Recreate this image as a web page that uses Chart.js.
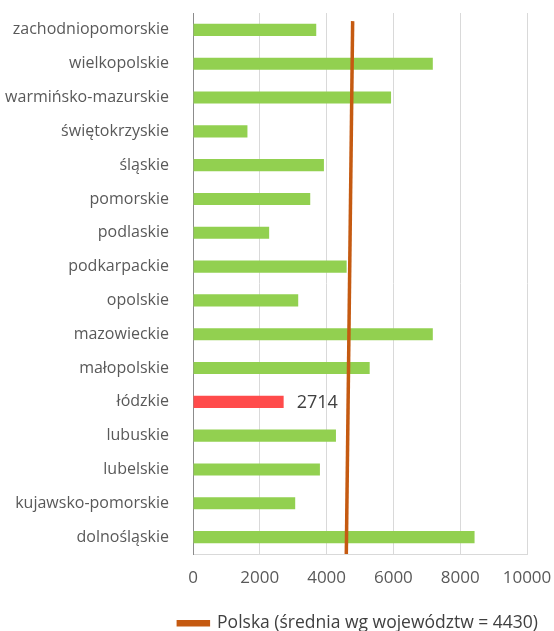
<!DOCTYPE html>
<html>
<head>
<meta charset="utf-8">
<script src="https://cdn.jsdelivr.net/npm/chart.js@4"></script>
<style>
  html, body { margin: 0; padding: 0; background: #fff; }
  #wrap { width: 554px; height: 631px; }
</style>
</head>
<body>
<div id="wrap"><canvas id="avgChart" width="554" height="631"></canvas></div>
<script>
// voivodeships, top to bottom as shown
const regions = [
    'zachodniopomorskie', 'wielkopolskie', 'warmińsko-mazurskie', 'świętokrzyskie',
    'śląskie', 'pomorskie', 'podlaskie', 'podkarpackie', 'opolskie', 'mazowieckie',
    'małopolskie', 'łódzkie', 'lubuskie', 'lubelskie', 'kujawsko-pomorskie', 'dolnośląskie'
];
const values = [3690, 7180, 5930, 1630, 3920, 3510, 2280, 4600, 3150, 7180, 5290, 2714, 4280, 3800, 3060, 8430];
const highlighted = 'łódzkie';

// the "Polska" reference line as it is drawn (slightly slanted in the source)
const avgLineX = [4590, 4780];
const avgLineY = [0, 0.985];
const avgLabel = 'Polska (średnia wg województw = 4430)';

const xTicks = [0, 2000, 4000, 6000, 8000, 10000];

const barColors = regions.map(r => r === highlighted ? '#FF4B4B' : '#92D050');
const avgPoints = avgLineX.map((x, i) => ({ x: x, y: avgLineY[i] }));

const valueLabel = {
    id: 'valueLabel',
    afterDatasetsDraw(chart) {
        const ctx = chart.ctx;
        const meta = chart.getDatasetMeta(0);
        const i = regions.indexOf(highlighted);
        const bar = meta.data[i];
        ctx.save();
        ctx.font = '18px "Open Sans"';
        ctx.fillStyle = '#404040';
        ctx.textBaseline = 'middle';
        ctx.fillText(String(values[i]), bar.x + 13, bar.y + 1);
        ctx.restore();
    }
};

// push the legend a bit lower, close to the bottom edge
const legendNudge = {
    id: 'legendNudge',
    afterLayout(chart) {
        if (chart.legend) {
            chart.legend.top += 11;
            chart.legend.bottom += 11;
        }
    }
};

new Chart(document.getElementById('avgChart').getContext('2d'), {
    type: 'bar',
    data: {
        labels: regions,
        datasets: [{
            label: 'województwa',
            data: values,
            backgroundColor: barColors,
            categoryPercentage: 1,
            barPercentage: 0.36,
            grouped: false,
            xAxisID: 'x',
            yAxisID: 'y',
            order: 2
        }, {
            type: 'line',
            label: avgLabel,
            data: avgPoints,
            borderColor: '#C55A11',
            backgroundColor: '#C55A11',
            borderWidth: 3.5,
            pointRadius: 0,
            indexAxis: 'x',
            xAxisID: 'x',
            yAxisID: 'y2',
            order: 1
        }]
    },
    options: {
        indexAxis: 'y',
        responsive: false,
        animation: false,
        layout: { padding: { top: 13, right: 14.5, left: 0, bottom: 0 } },
        scales: {
            x: {
                type: 'linear',
                min: 0,
                max: 10000,
                afterBuildTicks(scale) { scale.ticks = xTicks.map(v => ({ value: v })); },
                grid: { color: '#d9d9d9', drawTicks: false },
                border: { color: '#d9d9d9' },
                ticks: {
                    color: '#595959',
                    font: { size: 17, family: 'Open Sans' },
                    padding: 14,
                    callback: v => String(v)
                },
                afterFit(scale) {
                    scale.height = 48;
                    scale.paddingLeft = 0;
                    scale.paddingRight = 0;
                }
            },
            y: {
                type: 'category',
                grid: { display: false },
                border: { color: '#8c8c8c' },
                ticks: { color: '#595959', font: { size: 16, family: 'Open Sans' }, padding: 16 },
                afterFit(scale) {
                    scale.width = 193;
                    scale.paddingTop = 0;
                    scale.paddingBottom = 0;
                }
            },
            y2: {
                type: 'linear',
                position: 'right',
                offset: false,
                min: 0,
                max: 1,
                grid: { display: false },
                border: { display: false },
                ticks: { display: false },
                afterFit(scale) {
                    scale.width = 12.5;
                    scale.paddingTop = 0;
                    scale.paddingBottom = 0;
                }
            }
        },
        plugins: {
            legend: {
                position: 'bottom',
                align: 'end',
                labels: {
                    filter: item => item.datasetIndex === 1,
                    color: '#404040',
                    font: { size: 17.5, family: 'Open Sans' },
                    boxWidth: 30,
                    boxHeight: 3,
                    padding: 1.5
                }
            },
            tooltip: { enabled: false }
        }
    },
    plugins: [valueLabel, legendNudge]
});
</script>
</body>
</html>
